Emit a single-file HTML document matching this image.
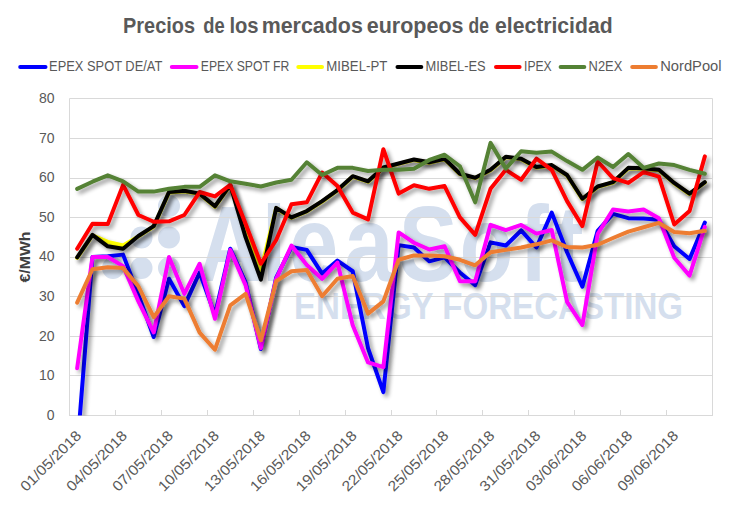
<!DOCTYPE html><html><head><meta charset="utf-8"><style>html,body{margin:0;padding:0;background:#fff;overflow:hidden}svg{display:block}text{font-family:"Liberation Sans", sans-serif}</style></head><body>
<svg width="736" height="513" viewBox="0 0 736 513">
<defs><filter id="sh" x="-10%" y="-10%" width="120%" height="120%"><feGaussianBlur in="SourceAlpha" stdDeviation="2"/><feOffset dx="2.5" dy="2.5" result="b"/><feComponentTransfer><feFuncA type="linear" slope="0.4"/></feComponentTransfer><feMerge><feMergeNode/><feMergeNode in="SourceGraphic"/></feMerge></filter>
<clipPath id="pc"><rect x="69.5" y="88.5" width="653.0" height="327.0"/></clipPath></defs>
<rect width="736" height="513" fill="#fff"/>
<text class="tt" x="123.1" y="32.8" font-size="22.5" font-weight="bold" fill="#595959" textLength="71.9" lengthAdjust="spacingAndGlyphs">Precios</text>
<text class="tt" x="203.2" y="32.8" font-size="22.5" font-weight="bold" fill="#595959" textLength="21.4" lengthAdjust="spacingAndGlyphs">de</text>
<text class="tt" x="229.4" y="32.8" font-size="22.5" font-weight="bold" fill="#595959" textLength="29.2" lengthAdjust="spacingAndGlyphs">los</text>
<text class="tt" x="261.7" y="32.8" font-size="22.5" font-weight="bold" fill="#595959" textLength="101.1" lengthAdjust="spacingAndGlyphs">mercados</text>
<text class="tt" x="366.8" y="32.8" font-size="22.5" font-weight="bold" fill="#595959" textLength="96.7" lengthAdjust="spacingAndGlyphs">europeos</text>
<text class="tt" x="468.5" y="32.8" font-size="22.5" font-weight="bold" fill="#595959" textLength="20.4" lengthAdjust="spacingAndGlyphs">de</text>
<text class="tt" x="495.0" y="32.8" font-size="22.5" font-weight="bold" fill="#595959" textLength="117.6" lengthAdjust="spacingAndGlyphs">electricidad</text>
<line x1="20.2" y1="67.0" x2="45.5" y2="67.0" stroke="#0000FF" stroke-width="4" stroke-linecap="round"/>
<text x="49.1" y="70.5" font-size="14" fill="#595959" textLength="113.2" lengthAdjust="spacingAndGlyphs">EPEX SPOT DE/AT</text>
<line x1="171.8" y1="67.0" x2="196.5" y2="67.0" stroke="#FF00FF" stroke-width="4" stroke-linecap="round"/>
<text x="200.8" y="70.5" font-size="14" fill="#595959" textLength="88.6" lengthAdjust="spacingAndGlyphs">EPEX SPOT FR</text>
<line x1="298.3" y1="67.0" x2="322" y2="67.0" stroke="#FFFF00" stroke-width="4" stroke-linecap="round"/>
<text x="326.3" y="70.5" font-size="14" fill="#595959" textLength="61.0" lengthAdjust="spacingAndGlyphs">MIBEL-PT</text>
<line x1="397.5" y1="67.0" x2="421.3" y2="67.0" stroke="#000000" stroke-width="4" stroke-linecap="round"/>
<text x="425.6" y="70.5" font-size="14" fill="#595959" textLength="60.0" lengthAdjust="spacingAndGlyphs">MIBEL-ES</text>
<line x1="496" y1="67.0" x2="519.6" y2="67.0" stroke="#FF0000" stroke-width="4" stroke-linecap="round"/>
<text x="524" y="70.5" font-size="14" fill="#595959" textLength="27.7" lengthAdjust="spacingAndGlyphs">IPEX</text>
<line x1="560.6" y1="67.0" x2="584.3" y2="67.0" stroke="#548235" stroke-width="4" stroke-linecap="round"/>
<text x="588.6" y="70.5" font-size="14" fill="#595959" textLength="33.7" lengthAdjust="spacingAndGlyphs">N2EX</text>
<line x1="632.2" y1="67.0" x2="655.9" y2="67.0" stroke="#ED7D31" stroke-width="4" stroke-linecap="round"/>
<text x="660.2" y="70.5" font-size="14" fill="#595959" textLength="61.4" lengthAdjust="spacingAndGlyphs">NordPool</text>
<circle cx="169" cy="206" r="11" fill="#D5DFEE"/>
<circle cx="141.5" cy="237.5" r="11" fill="#D5DFEE"/>
<circle cx="169" cy="237.5" r="11" fill="#D5DFEE"/>
<circle cx="113" cy="268" r="11" fill="#D5DFEE"/>
<circle cx="141.5" cy="268" r="11" fill="#D5DFEE"/>
<circle cx="169" cy="268" r="11" fill="#D5DFEE"/>
<text transform="translate(197.84,280.7) scale(0.82,1)" font-size="108" font-weight="bold" fill="#D5DFEE">A</text>
<text transform="translate(261.80,280.7) scale(0.82,1)" font-size="108" font-weight="bold" fill="#D5DFEE">l</text>
<text transform="translate(289.06,280.7) scale(0.82,1)" font-size="108" font-weight="bold" fill="#D5DFEE">e</text>
<text transform="translate(344.14,280.7) scale(0.82,1)" font-size="108" font-weight="bold" fill="#D5DFEE">a</text>
<text transform="translate(398.84,280.7) scale(0.82,1)" font-size="108" font-weight="bold" fill="#D5DFEE">S</text>
<text transform="translate(459.46,280.7) scale(0.82,1)" font-size="108" font-weight="bold" fill="#D5DFEE">o</text>
<text transform="translate(519.23,280.7) scale(0.82,1)" font-size="108" font-weight="bold" fill="#D5DFEE">f</text>
<text transform="translate(554.11,280.7) scale(0.82,1)" font-size="108" font-weight="bold" fill="#D5DFEE">t</text>
<text x="294" y="319.2" font-size="37" font-weight="bold" fill="#D5DFEE" textLength="389" lengthAdjust="spacingAndGlyphs">ENERGY FORECASTING</text>
<line x1="69.5" y1="375.5" x2="712.5" y2="375.5" stroke="#D9D9D9" stroke-width="1"/>
<line x1="69.5" y1="336.5" x2="712.5" y2="336.5" stroke="#D9D9D9" stroke-width="1"/>
<line x1="69.5" y1="296.5" x2="712.5" y2="296.5" stroke="#D9D9D9" stroke-width="1"/>
<line x1="69.5" y1="257.5" x2="712.5" y2="257.5" stroke="#D9D9D9" stroke-width="1"/>
<line x1="69.5" y1="217.5" x2="712.5" y2="217.5" stroke="#D9D9D9" stroke-width="1"/>
<line x1="69.5" y1="178.5" x2="712.5" y2="178.5" stroke="#D9D9D9" stroke-width="1"/>
<line x1="69.5" y1="138.5" x2="712.5" y2="138.5" stroke="#D9D9D9" stroke-width="1"/>
<line x1="69.5" y1="98.5" x2="712.5" y2="98.5" stroke="#D9D9D9" stroke-width="1"/>
<line x1="69.5" y1="98.5" x2="69.5" y2="415.5" stroke="#D9D9D9" stroke-width="1"/>
<line x1="712.5" y1="98.5" x2="712.5" y2="415.5" stroke="#D9D9D9" stroke-width="1"/>
<line x1="69.0" y1="415.5" x2="713.0" y2="415.5" stroke="#D9D9D9" stroke-width="1"/>
<line x1="115.5" y1="410" x2="115.5" y2="415.5" stroke="#D9D9D9" stroke-width="1"/>
<line x1="161.5" y1="410" x2="161.5" y2="415.5" stroke="#D9D9D9" stroke-width="1"/>
<line x1="207.5" y1="410" x2="207.5" y2="415.5" stroke="#D9D9D9" stroke-width="1"/>
<line x1="253.5" y1="410" x2="253.5" y2="415.5" stroke="#D9D9D9" stroke-width="1"/>
<line x1="299.5" y1="410" x2="299.5" y2="415.5" stroke="#D9D9D9" stroke-width="1"/>
<line x1="345.5" y1="410" x2="345.5" y2="415.5" stroke="#D9D9D9" stroke-width="1"/>
<line x1="391.5" y1="410" x2="391.5" y2="415.5" stroke="#D9D9D9" stroke-width="1"/>
<line x1="436.5" y1="410" x2="436.5" y2="415.5" stroke="#D9D9D9" stroke-width="1"/>
<line x1="482.5" y1="410" x2="482.5" y2="415.5" stroke="#D9D9D9" stroke-width="1"/>
<line x1="528.5" y1="410" x2="528.5" y2="415.5" stroke="#D9D9D9" stroke-width="1"/>
<line x1="574.5" y1="410" x2="574.5" y2="415.5" stroke="#D9D9D9" stroke-width="1"/>
<line x1="620.5" y1="410" x2="620.5" y2="415.5" stroke="#D9D9D9" stroke-width="1"/>
<line x1="666.5" y1="410" x2="666.5" y2="415.5" stroke="#D9D9D9" stroke-width="1"/>
<text x="54.5" y="419.90" font-size="14" fill="#595959" text-anchor="end">0</text>
<text x="54.5" y="380.27" font-size="14" fill="#595959" text-anchor="end">10</text>
<text x="54.5" y="340.65" font-size="14" fill="#595959" text-anchor="end">20</text>
<text x="54.5" y="301.02" font-size="14" fill="#595959" text-anchor="end">30</text>
<text x="54.5" y="261.40" font-size="14" fill="#595959" text-anchor="end">40</text>
<text x="54.5" y="221.78" font-size="14" fill="#595959" text-anchor="end">50</text>
<text x="54.5" y="182.15" font-size="14" fill="#595959" text-anchor="end">60</text>
<text x="54.5" y="142.53" font-size="14" fill="#595959" text-anchor="end">70</text>
<text x="54.5" y="102.90" font-size="14" fill="#595959" text-anchor="end">80</text>
<text transform="translate(30.1,257) rotate(-90)" font-size="14.5" font-weight="bold" fill="#404040" text-anchor="middle" textLength="51" lengthAdjust="spacingAndGlyphs">€/MWh</text>
<text transform="translate(82.15,436.5) rotate(-45)" font-size="14.5" fill="#595959" text-anchor="end" textLength="79" lengthAdjust="spacingAndGlyphs">01/05/2018</text>
<text transform="translate(128.08,436.5) rotate(-45)" font-size="14.5" fill="#595959" text-anchor="end" textLength="79" lengthAdjust="spacingAndGlyphs">04/05/2018</text>
<text transform="translate(174.01,436.5) rotate(-45)" font-size="14.5" fill="#595959" text-anchor="end" textLength="79" lengthAdjust="spacingAndGlyphs">07/05/2018</text>
<text transform="translate(219.94,436.5) rotate(-45)" font-size="14.5" fill="#595959" text-anchor="end" textLength="79" lengthAdjust="spacingAndGlyphs">10/05/2018</text>
<text transform="translate(265.87,436.5) rotate(-45)" font-size="14.5" fill="#595959" text-anchor="end" textLength="79" lengthAdjust="spacingAndGlyphs">13/05/2018</text>
<text transform="translate(311.80,436.5) rotate(-45)" font-size="14.5" fill="#595959" text-anchor="end" textLength="79" lengthAdjust="spacingAndGlyphs">16/05/2018</text>
<text transform="translate(357.73,436.5) rotate(-45)" font-size="14.5" fill="#595959" text-anchor="end" textLength="79" lengthAdjust="spacingAndGlyphs">19/05/2018</text>
<text transform="translate(403.65,436.5) rotate(-45)" font-size="14.5" fill="#595959" text-anchor="end" textLength="79" lengthAdjust="spacingAndGlyphs">22/05/2018</text>
<text transform="translate(449.58,436.5) rotate(-45)" font-size="14.5" fill="#595959" text-anchor="end" textLength="79" lengthAdjust="spacingAndGlyphs">25/05/2018</text>
<text transform="translate(495.51,436.5) rotate(-45)" font-size="14.5" fill="#595959" text-anchor="end" textLength="79" lengthAdjust="spacingAndGlyphs">28/05/2018</text>
<text transform="translate(541.44,436.5) rotate(-45)" font-size="14.5" fill="#595959" text-anchor="end" textLength="79" lengthAdjust="spacingAndGlyphs">31/05/2018</text>
<text transform="translate(587.37,436.5) rotate(-45)" font-size="14.5" fill="#595959" text-anchor="end" textLength="79" lengthAdjust="spacingAndGlyphs">03/06/2018</text>
<text transform="translate(633.30,436.5) rotate(-45)" font-size="14.5" fill="#595959" text-anchor="end" textLength="79" lengthAdjust="spacingAndGlyphs">06/06/2018</text>
<text transform="translate(679.23,436.5) rotate(-45)" font-size="14.5" fill="#595959" text-anchor="end" textLength="79" lengthAdjust="spacingAndGlyphs">09/06/2018</text>
<g clip-path="url(#pc)">
<polyline points="77.15,449.97 92.46,257.00 107.77,256.21 123.08,254.62 138.39,294.64 153.70,337.04 169.01,278.79 184.32,306.13 199.63,272.45 214.94,314.85 230.25,248.68 245.56,282.36 260.87,348.93 276.18,277.61 291.49,247.09 306.80,249.87 322.11,273.64 337.42,260.57 352.73,271.26 368.04,348.14 383.35,392.12 398.65,245.11 413.96,247.49 429.27,261.36 444.58,257.40 459.89,272.45 475.20,285.13 490.51,242.34 505.82,245.51 521.13,230.45 536.44,247.49 551.75,212.62 567.06,252.25 582.37,286.72 597.68,230.85 612.99,213.81 628.30,218.17 643.61,218.56 658.92,219.75 674.23,246.30 689.54,258.98 704.85,222.53" fill="none" stroke="#0000FF" stroke-width="4" stroke-linejoin="round" stroke-linecap="round" filter="url(#sh)"/>
<polyline points="77.15,368.35 92.46,257.00 107.77,257.00 123.08,266.11 138.39,301.38 153.70,332.29 169.01,257.00 184.32,293.85 199.63,263.74 214.94,318.81 230.25,249.87 245.56,285.13 260.87,348.14 276.18,278.79 291.49,245.51 306.80,264.93 322.11,278.79 337.42,262.55 352.73,325.15 368.04,362.40 383.35,367.16 398.65,232.43 413.96,242.73 429.27,249.47 444.58,246.30 459.89,281.17 475.20,281.17 490.51,224.90 505.82,230.06 521.13,224.90 536.44,233.62 551.75,230.06 567.06,301.78 582.37,325.15 597.68,234.02 612.99,209.45 628.30,211.43 643.61,209.45 658.92,218.17 674.23,257.79 689.54,275.62 704.85,226.88" fill="none" stroke="#FF00FF" stroke-width="4" stroke-linejoin="round" stroke-linecap="round" filter="url(#sh)"/>
<polyline points="77.15,257.79 92.46,235.21 107.77,241.94 123.08,245.51 138.39,236.40 153.70,226.49 169.01,192.41 184.32,191.22 199.63,194.00 214.94,206.68 230.25,185.28 245.56,231.24 260.87,270.47 276.18,208.26 291.49,217.77 306.80,211.43 322.11,201.53 337.42,190.43 352.73,176.56 368.04,181.71 383.35,167.84 398.65,163.88 413.96,159.92 429.27,162.69 444.58,159.13 459.89,174.18 475.20,178.15 490.51,170.22 505.82,157.14 521.13,159.13 536.44,167.45 551.75,165.47 567.06,175.37 582.37,199.15 597.68,186.86 612.99,182.51 628.30,168.24 643.61,168.64 658.92,170.22 674.23,183.30 689.54,194.00 704.85,182.51" fill="none" stroke="#FFFF00" stroke-width="4" stroke-linejoin="round" stroke-linecap="round" filter="url(#sh)"/>
<polyline points="77.15,257.40 92.46,234.81 107.77,246.30 123.08,248.68 138.39,236.00 153.70,226.09 169.01,192.02 184.32,190.83 199.63,193.60 214.94,206.28 230.25,184.88 245.56,237.19 260.87,279.59 276.18,207.87 291.49,217.38 306.80,211.03 322.11,201.13 337.42,190.03 352.73,176.17 368.04,181.32 383.35,167.45 398.65,163.49 413.96,159.52 429.27,162.30 444.58,158.73 459.89,173.79 475.20,177.75 490.51,169.83 505.82,156.75 521.13,158.73 536.44,167.05 551.75,165.07 567.06,174.98 582.37,198.75 597.68,186.47 612.99,182.11 628.30,167.84 643.61,168.24 658.92,169.83 674.23,182.90 689.54,193.60 704.85,182.11" fill="none" stroke="#000000" stroke-width="4" stroke-linejoin="round" stroke-linecap="round" filter="url(#sh)"/>
<polyline points="77.15,248.68 92.46,223.72 107.77,224.11 123.08,184.88 138.39,215.00 153.70,221.73 169.01,221.34 184.32,215.00 199.63,192.02 214.94,196.37 230.25,184.88 245.56,223.72 260.87,263.74 276.18,239.96 291.49,204.30 306.80,202.32 322.11,172.60 337.42,186.07 352.73,212.62 368.04,219.36 383.35,149.22 398.65,193.60 413.96,185.28 429.27,188.84 444.58,186.07 459.89,217.38 475.20,234.81 490.51,188.84 505.82,169.83 521.13,179.73 536.44,158.73 551.75,169.83 567.06,201.13 582.37,226.09 597.68,161.50 612.99,178.15 628.30,182.90 643.61,172.20 658.92,176.56 674.23,224.51 689.54,211.03 704.85,156.35" fill="none" stroke="#FF0000" stroke-width="4" stroke-linejoin="round" stroke-linecap="round" filter="url(#sh)"/>
<polyline points="77.15,188.84 92.46,181.71 107.77,175.37 123.08,181.32 138.39,191.62 153.70,191.62 169.01,188.84 184.32,186.86 199.63,186.86 214.94,175.37 230.25,181.32 245.56,183.69 260.87,186.47 276.18,182.51 291.49,179.73 306.80,162.30 322.11,174.98 337.42,167.84 352.73,167.84 368.04,171.01 383.35,169.83 398.65,169.83 413.96,168.64 429.27,159.92 444.58,154.77 459.89,166.26 475.20,202.32 490.51,142.88 505.82,168.64 521.13,151.20 536.44,152.79 551.75,151.60 567.06,161.11 582.37,169.83 597.68,157.54 612.99,167.05 628.30,153.98 643.61,167.84 658.92,163.49 674.23,165.07 689.54,169.83 704.85,173.79" fill="none" stroke="#548235" stroke-width="4" stroke-linejoin="round" stroke-linecap="round" filter="url(#sh)"/>
<polyline points="77.15,302.57 92.46,269.28 107.77,267.30 123.08,268.10 138.39,286.32 153.70,317.23 169.01,296.23 184.32,298.61 199.63,332.68 214.94,349.72 230.25,305.34 245.56,293.85 260.87,340.21 276.18,281.17 291.49,271.26 306.80,270.08 322.11,296.23 337.42,278.79 352.73,276.02 368.04,313.66 383.35,301.38 398.65,259.77 413.96,255.42 429.27,255.42 444.58,256.21 459.89,259.77 475.20,265.32 490.51,252.25 505.82,249.87 521.13,247.49 536.44,244.32 551.75,240.36 567.06,247.09 582.37,247.49 597.68,244.72 612.99,237.98 628.30,231.64 643.61,227.28 658.92,222.92 674.23,232.04 689.54,233.22 704.85,230.85" fill="none" stroke="#ED7D31" stroke-width="4" stroke-linejoin="round" stroke-linecap="round" filter="url(#sh)"/>
</g>
</svg></body></html>
